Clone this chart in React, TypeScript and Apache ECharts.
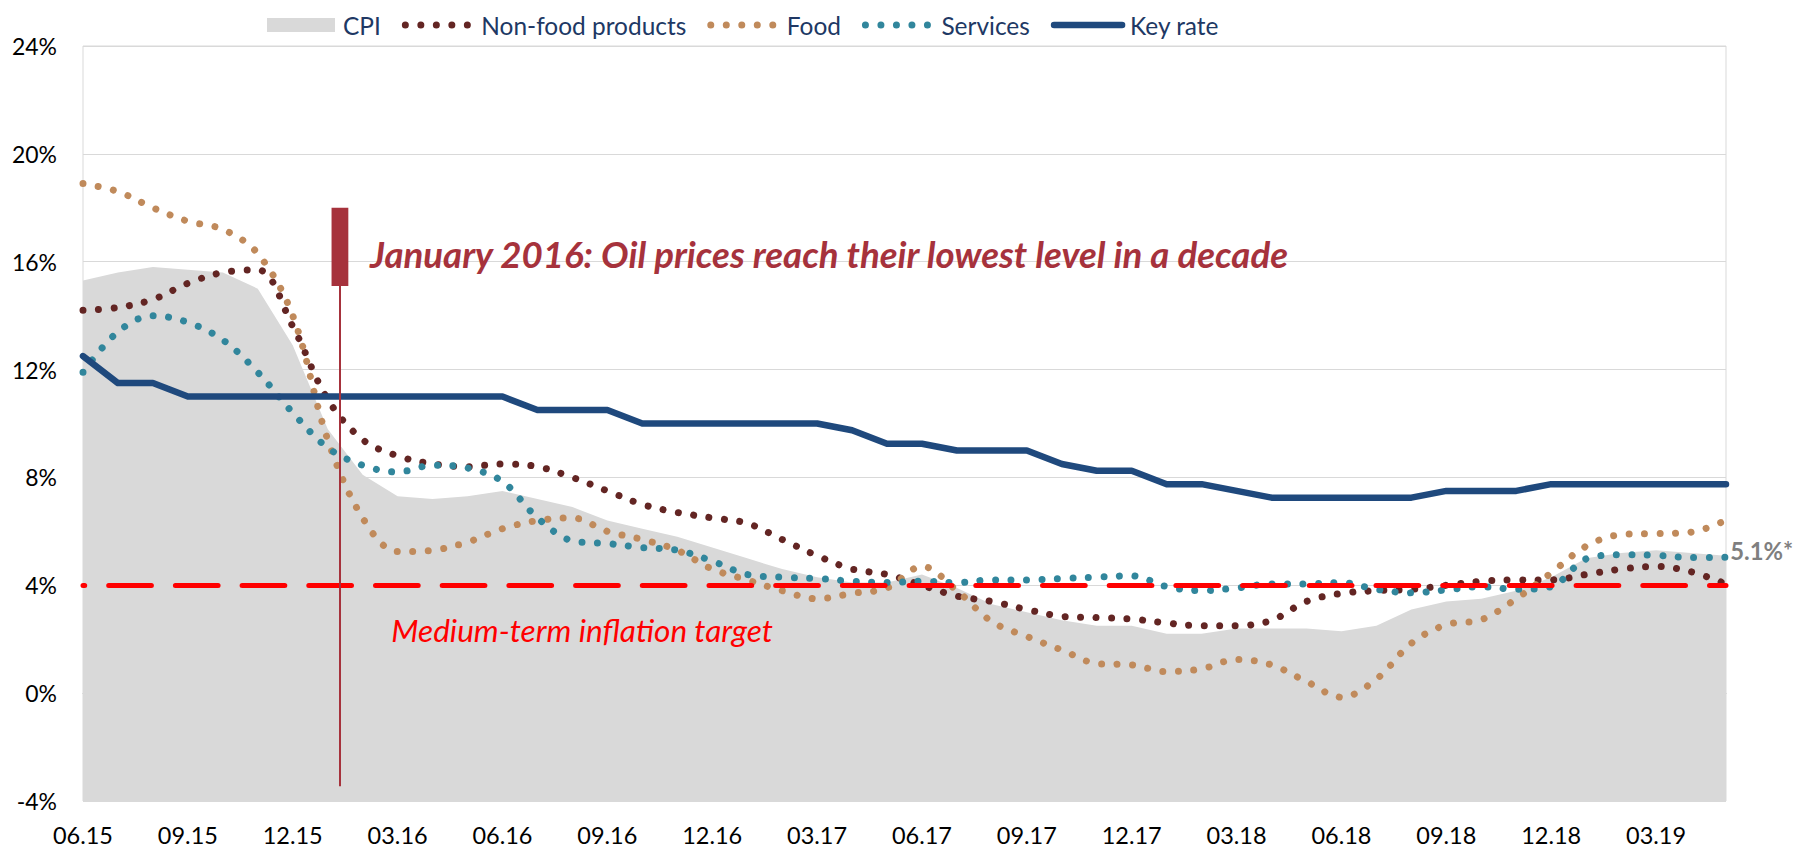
import { useEffect, useRef } from "react";
import * as echarts from "echarts";

const months = [
  "06.15", "07.15", "08.15", "09.15", "10.15", "11.15", "12.15",
  "01.16", "02.16", "03.16", "04.16", "05.16", "06.16", "07.16", "08.16", "09.16", "10.16", "11.16", "12.16",
  "01.17", "02.17", "03.17", "04.17", "05.17", "06.17", "07.17", "08.17", "09.17", "10.17", "11.17", "12.17",
  "01.18", "02.18", "03.18", "04.18", "05.18", "06.18", "07.18", "08.18", "09.18", "10.18", "11.18", "12.18",
  "01.19", "02.19", "03.19", "04.19", "05.19",
];

const cpi = [
  15.3, 15.6, 15.8, 15.7, 15.6, 15.0, 12.9, 9.8, 8.1, 7.3, 7.2, 7.3, 7.5, 7.2, 6.9, 6.4, 6.1, 5.8, 5.4, 5.0,
  4.6, 4.3, 4.1, 4.1, 4.4, 3.9, 3.3, 3.0, 2.7, 2.5, 2.5, 2.2, 2.2, 2.4, 2.4, 2.4, 2.3, 2.5, 3.1, 3.4,
  3.5, 3.8, 4.3, 5.0, 5.2, 5.3, 5.2, 5.1,
];

const nonFood = [
  14.2, 14.3, 14.6, 15.2, 15.6, 15.7, 13.6, 10.9, 9.4, 8.8, 8.5, 8.4, 8.5, 8.4, 8.0, 7.5, 7.0, 6.7, 6.5, 6.3,
  5.7, 5.1, 4.6, 4.4, 4.0, 3.6, 3.4, 3.1, 2.85, 2.8, 2.75, 2.6, 2.5, 2.5, 2.7, 3.4, 3.7, 3.8, 3.85, 4.0,
  4.15, 4.2, 4.2, 4.4, 4.6, 4.7, 4.5, 4.05,
];

const food = [
  18.9, 18.6, 18.0, 17.5, 17.2, 16.3, 14.0, 9.4, 6.5, 5.25, 5.3, 5.6, 6.1, 6.4, 6.5, 6.0, 5.7, 5.3, 4.6, 4.2,
  3.8, 3.5, 3.7, 3.9, 4.7, 3.8, 2.65, 2.1, 1.6, 1.1, 1.05, 0.8, 0.9, 1.25, 1.05, 0.43, -0.15, 0.52, 1.85, 2.54,
  2.72, 3.5, 4.46, 5.45, 5.88, 5.92, 5.97, 6.41,
];

const services = [
  11.9, 13.4, 14.0, 13.75, 13.1, 11.9, 10.4, 9.1, 8.45, 8.2, 8.45, 8.35, 7.85, 6.5, 5.65, 5.55, 5.4, 5.3, 4.9, 4.4,
  4.3, 4.25, 4.15, 4.1, 4.15, 4.1, 4.2, 4.2, 4.25, 4.3, 4.35, 3.95, 3.8, 3.9, 4.05, 4.05, 4.1, 3.85, 3.72, 3.83,
  3.95, 3.85, 3.95, 4.98, 5.13, 5.11, 5.03, 5.04,
];

const keyRate = [
  12.5, 11.5, 11.5, 11, 11, 11, 11, 11, 11, 11, 11, 11, 11, 10.5, 10.5, 10.5, 10, 10, 10, 10,
  10, 10, 9.75, 9.25, 9.25, 9, 9, 9, 8.5, 8.25, 8.25, 7.75, 7.75, 7.5, 7.25, 7.25, 7.25, 7.25, 7.25, 7.5,
  7.5, 7.5, 7.75, 7.75, 7.75, 7.75, 7.75, 7.75,
];

const seriesNames = ["CPI", "Non-food products", "Food", "Services", "Key rate"];
const tickEvery = 3;

const yMin = -4;
const yMax = 24;
const yStep = 4;
const targetRate = 4;

// annotation (data coordinates)
const eventX = 7.35;
const eventLineBottom = -3.45;
const eventBarBottom = 15.1;
const eventBarTop = 18;
const eventBarHalfWidth = 0.24;
const eventText = "January 2016: Oil prices reach their lowest level in a decade";
const eventTextPos = [8.21, 16.3];
const targetText = "Medium-term inflation target";
const targetTextPos = [8.82, 2.33];
const lastCpiText = "5.1%*";
const lastCpiTextPos = [47.12, 5.3];

const FAMILY = "Lato";

const C_CPI = "#D9D9D9";
const C_NONFOOD = "#632523";
const C_FOOD = "#C08A5B";
const C_SERV = "#31869C";
const C_KEY = "#1F497D";
const C_TARGET = "#FF0000";
const C_EVENT = "#A6323C";
const C_LEGEND = "#203864";

const DOT_W = 7;
const DOT_GAP = 15.5;
const KEY_W = 6.5;

function fitSize(text: string, style: string, target: number): number {
  const ctx = document.createElement("canvas").getContext("2d");
  if (!ctx) return 24;
  ctx.font = `${style} 100px ${FAMILY}`;
  const w = ctx.measureText(text).width;
  return (100 * target) / w;
}

const pts = (arr: number[]) => arr.map((v, i) => [i, v]);

export default function App() {
  const ref = useRef<HTMLDivElement>(null);

  useEffect(() => {
    document.body.style.margin = "0";
    if (!ref.current) return;
    const chart = echarts.init(ref.current, undefined, { renderer: "svg" });

    const legendSize = fitSize("Non-food products", "normal", 205);
    const axisSize = fitSize("06.15", "normal", 60);
    const ySize = fitSize("24%", "normal", 45);
    const eventSize = fitSize(eventText, "italic bold", 920);
    const targetSize = fitSize(targetText, "italic", 382);
    const lastSize = fitSize(lastCpiText, "bold", 63);

    const tickIdx = months.map((_, i) => i).filter((i) => i % tickEvery === 0);

    const dotted = (color: string) => ({
      color,
      width: DOT_W,
      type: [0.001, DOT_GAP] as number[],
      cap: "round" as const,
    });

    const legendData = seriesNames.map((n, i) => {
      if (i === 0) return { name: n, icon: "rect" };
      return {
        name: n,
        itemStyle: { opacity: 0 },
        lineStyle: { width: i === 4 ? KEY_W : DOT_W },
      };
    });

    chart.setOption({
      animation: false,
      grid: {
        left: 83,
        right: 88,
        top: 46,
        bottom: 48,
        show: true,
        borderColor: "#D9D9D9",
        borderWidth: 1,
        outerBoundsMode: "none",
      },
      legend: {
        left: 262,
        top: 6,
        itemWidth: 68,
        itemHeight: 14,
        itemGap: 21,
        selectedMode: false,
        textStyle: {
          fontFamily: FAMILY,
          fontSize: legendSize,
          color: C_LEGEND,
          lineHeight: 28,
          padding: [0, 0, 0, 3],
        },
        data: legendData,
      },
      xAxis: {
        type: "value",
        min: 0,
        max: months.length - 1,
        axisLine: { show: true, lineStyle: { color: "#BFBFBF", width: 1 } },
        axisTick: { show: true, customValues: tickIdx, length: 8, lineStyle: { color: "#BFBFBF" } },
        axisLabel: {
          customValues: tickIdx,
          formatter: (v: number) => months[Math.round(v)] ?? "",
          fontFamily: FAMILY,
          fontSize: axisSize,
          color: "#000000",
          margin: 22,
        },
        splitLine: { show: false },
      },
      yAxis: {
        type: "value",
        min: yMin,
        max: yMax,
        interval: yStep,
        axisLine: { show: false },
        axisTick: { show: false },
        axisLabel: {
          formatter: "{value}%",
          fontFamily: FAMILY,
          fontSize: ySize,
          color: "#000000",
          margin: 26,
        },
        splitLine: { lineStyle: { color: "#D9D9D9", width: 1 } },
      },
      series: [
        {
          name: seriesNames[0],
          type: "line",
          data: pts(cpi),
          symbol: "none",
          itemStyle: { color: C_CPI },
          lineStyle: { width: 0, color: C_CPI },
          areaStyle: { color: C_CPI, opacity: 1, origin: "start" },
          z: 1,
          silent: true,
        },
        {
          name: seriesNames[1],
          type: "line",
          data: pts(nonFood),
          smooth: 0.35,
          symbol: "none",
          itemStyle: { color: C_NONFOOD },
          lineStyle: dotted(C_NONFOOD),
          z: 2,
          silent: true,
        },
        {
          name: seriesNames[2],
          type: "line",
          data: pts(food),
          smooth: 0.35,
          symbol: "none",
          itemStyle: { color: C_FOOD },
          lineStyle: dotted(C_FOOD),
          z: 2,
          silent: true,
        },
        {
          name: seriesNames[3],
          type: "line",
          data: pts(services),
          smooth: 0.35,
          symbol: "none",
          itemStyle: { color: C_SERV },
          lineStyle: dotted(C_SERV),
          z: 2,
          silent: true,
        },
        {
          name: seriesNames[4],
          type: "line",
          data: pts(keyRate),
          symbol: "none",
          itemStyle: { color: C_KEY },
          lineStyle: { color: C_KEY, width: KEY_W, cap: "round", join: "round" },
          z: 3,
          silent: true,
        },
        {
          name: "target",
          type: "line",
          data: [],
          z: 4,
          silent: true,
          markLine: {
            silent: true,
            symbol: ["none", "none"],
            label: { show: false },
            lineStyle: {
              color: C_TARGET,
              width: 5,
              type: [42.7, 24],
              dashOffset: 40.8,
              cap: "round",
            },
            data: [{ yAxis: targetRate }],
          },
        },
        {
          name: "event",
          type: "line",
          data: [],
          z: 5,
          silent: true,
          markLine: {
            silent: true,
            symbol: ["none", "none"],
            label: { show: false },
            lineStyle: { color: C_EVENT, width: 2, type: "solid" },
            data: [[{ coord: [eventX, eventLineBottom] }, { coord: [eventX, eventBarBottom] }]],
          },
          markArea: {
            silent: true,
            itemStyle: { color: C_EVENT, opacity: 1 },
            label: { show: false },
            data: [[
              { coord: [eventX - eventBarHalfWidth, eventBarTop] },
              { coord: [eventX + eventBarHalfWidth, eventBarBottom] },
            ]],
          },
        },
      ],
    });

    const toPx = (p: number[]) => chart.convertToPixel({ gridIndex: 0 }, p) as number[];
    const p1 = toPx(eventTextPos);
    const p2 = toPx(targetTextPos);
    const p3 = toPx(lastCpiTextPos);

    chart.setOption({
      graphic: [
        {
          type: "text",
          x: p1[0],
          y: p1[1],
          z: 100,
          silent: true,
          style: {
            text: eventText,
            fill: C_EVENT,
            fontFamily: FAMILY,
            fontSize: eventSize,
            fontWeight: "bold",
            fontStyle: "italic",
            align: "left",
            verticalAlign: "middle",
          },
        },
        {
          type: "text",
          x: p2[0],
          y: p2[1],
          z: 100,
          silent: true,
          style: {
            text: targetText,
            fill: C_TARGET,
            fontFamily: FAMILY,
            fontSize: targetSize,
            fontStyle: "italic",
            align: "left",
            verticalAlign: "middle",
          },
        },
        {
          type: "text",
          x: p3[0],
          y: p3[1],
          z: 100,
          silent: true,
          style: {
            text: lastCpiText,
            fill: "#7F7F7F",
            fontFamily: FAMILY,
            fontSize: lastSize,
            fontWeight: "bold",
            align: "left",
            verticalAlign: "middle",
          },
        },
      ],
    });

    return () => chart.dispose();
  }, []);

  return <div ref={ref} style={{ width: 1814, height: 849 }} />;
}
